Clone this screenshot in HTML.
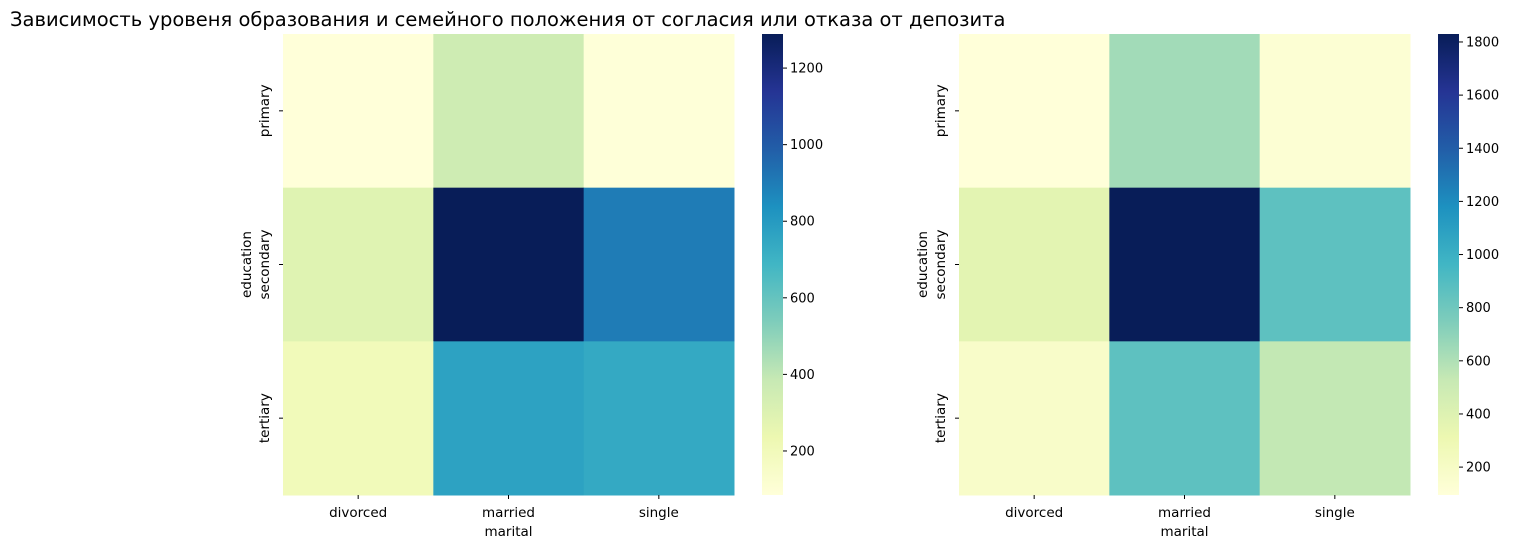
<!DOCTYPE html>
<html><head><meta charset="utf-8"><style>
body{margin:0;background:#fff;font-family:"Liberation Sans","DejaVu Sans",sans-serif;}
svg text{font-family:"DejaVu Sans","Liberation Sans",sans-serif;}
</style></head><body>
<svg id="s" width="1516" height="549" xmlns="http://www.w3.org/2000/svg">
<text x="10" y="26" font-size="19.5" fill="#000">Зависимость уровеня образования и семейного положения от согласия или отказа от депозита</text>
</svg>
<script>
const categoriesX = ['divorced','married','single'];
const categoriesY = ['primary','secondary','tertiary'];
const valuesLeft = [[85,360,90],[290,1289,900],[200,770,740]];
const valuesRight = [[95,640,130],[370,1830,860],[180,860,540]];
const ticksLeft = [200,400,600,800,1000,1200];
const ticksRight = [200,400,600,800,1000,1200,1400,1600,1800];
const rangeLeft = [85,1289];
const rangeRight = [95,1830];

const stops=['#ffffd9','#edf8b1','#c7e9b4','#7fcdbb','#41b6c4','#1d91c0','#225ea8','#253494','#081d58'];
function hex(h){return [1,3,5].map(i=>parseInt(h.substr(i,2),16));}
function cmap(t){t=Math.max(0,Math.min(1,t));const p=t*(stops.length-1);const i=Math.min(stops.length-2,Math.floor(p));const f=p-i;const a=hex(stops[i]),b=hex(stops[i+1]);return 'rgb('+a.map((v,k)=>Math.round(v+(b[k]-v)*f)).join(',')+')';}
const svg=document.getElementById('s');const NS='http://www.w3.org/2000/svg';
function el(tag,attrs,parent){const e=document.createElementNS(NS,tag);for(const k in attrs)e.setAttribute(k,attrs[k]);(parent||svg).appendChild(e);return e;}
const defs=el('defs',{});
const lg=el('linearGradient',{id:'g',x1:0,y1:1,x2:0,y2:0},defs);
stops.forEach((c,i)=>el('stop',{offset:i/(stops.length-1),'stop-color':c},lg));

function heat(x0,vals,range,ticks,name){
  const y0=34,W=451,H=461,cw=W/3,ch=H/3;
  const g=el('g',{});
  
  
  vals.forEach((row,r)=>row.forEach((v,c)=>{
    const rc=el('rect',{x:x0+c*cw,y:y0+r*ch,width:cw+0.5,height:ch+0.5,fill:cmap((v-range[0])/(range[1]-range[0]))},g);
    
    
  }));
  categoriesX.forEach((t,c)=>{const cx=x0+c*cw+cw/2;
    el('line',{x1:cx,x2:cx,y1:y0+H,y2:y0+H+4,stroke:'#000'},g);
    const tx=el('text',{x:cx,y:y0+H+22,'font-size':13.5,'text-anchor':'middle'},g);tx.textContent=t;
    
    });
  categoriesY.forEach((t,r)=>{const cy=y0+r*ch+ch/2;
    el('line',{x1:x0-4,x2:x0,y1:cy,y2:cy,stroke:'#000'},g);
    const tx=el('text',{x:0,y:0,'font-size':13.5,'text-anchor':'middle',transform:`translate(${x0-14},${cy}) rotate(-90)`},g);tx.textContent=t;
    
    });
  const xl=el('text',{x:x0+W/2,y:y0+H+41,'font-size':13.5,'text-anchor':'middle'},g);xl.textContent='marital';
  
  
  const yl=el('text',{x:0,y:0,'font-size':13.5,'text-anchor':'middle',transform:`translate(${x0-32},${y0+H/2}) rotate(-90)`},g);yl.textContent='education';
  
  
  const bx=x0+W+28;
  const cb=el('rect',{x:bx,y:y0,width:21,height:H,fill:'url(#g)'},g);
  
  
  ticks.forEach(t=>{const ty=y0+H-(t-range[0])/(range[1]-range[0])*H;
    el('line',{x1:bx+21,x2:bx+25,y1:ty,y2:ty,stroke:'#000'},g);
    const tx=el('text',{x:bx+28,y:ty+4.5,'font-size':13},g);tx.textContent=t;
    
    });
}
heat(283,valuesLeft,rangeLeft,ticksLeft,'heatmap-left');
heat(959,valuesRight,rangeRight,ticksRight,'heatmap-right');
</script>
</body></html>
